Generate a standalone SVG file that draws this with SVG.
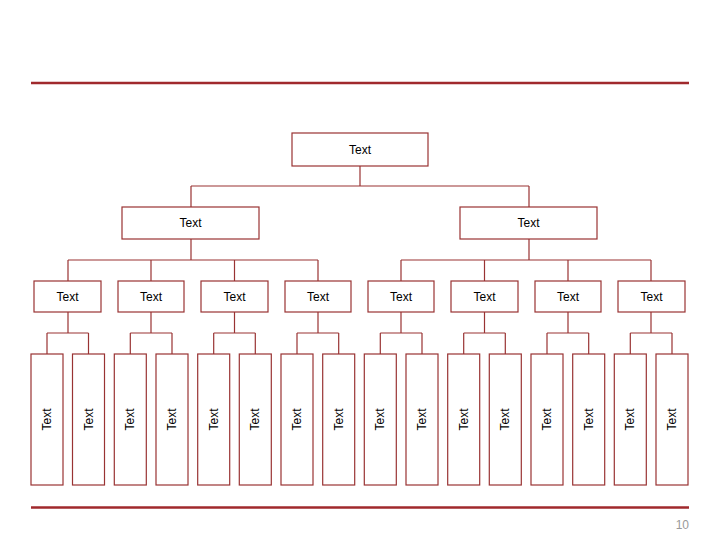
<svg xmlns="http://www.w3.org/2000/svg" width="720" height="540" viewBox="0 0 720 540">
<style>
.box{fill:#fff;stroke:#993333;stroke-width:1.2}
.ln{fill:none;stroke:#993333;stroke-width:1.2}
.t{font-family:"Liberation Sans",Arial,sans-serif;font-size:12px;fill:#000;text-anchor:middle;dominant-baseline:central}
.rule{stroke:#A0292C;stroke-width:2.5}
</style>
<rect width="720" height="540" fill="#fff"/>
<line class="rule" x1="31" y1="83" x2="689" y2="83"/>
<line class="rule" x1="31" y1="507.5" x2="689" y2="507.5"/>
<text x="689" y="529" font-family="Liberation Sans,Arial,sans-serif" font-size="12" fill="#999" text-anchor="end">10</text>
<g id="connectors" class="ln">
<path d="M360 166V186M191 186H529M191 186V207M529 186V207"/>
<path d="M191 239V260M68 260H318M68 260V281M151 260V281M234.5 260V281M318 260V281"/>
<path d="M529 239V260M401 260H651M401 260V281M484.5 260V281M568 260V281M651 260V281"/>
<path d="M68 312V333M47 333H88.5M47 333V354M88.5 333V354"/>
<path d="M151 312V333M130.3 333H172M130.3 333V354M172 333V354"/>
<path d="M234.5 312V333M213.7 333H255.3M213.7 333V354M255.3 333V354"/>
<path d="M318 312V333M297 333H338.7M297 333V354M338.7 333V354"/>
<path d="M401 312V333M380.3 333H422M380.3 333V354M422 333V354"/>
<path d="M484.5 312V333M463.7 333H505.3M463.7 333V354M505.3 333V354"/>
<path d="M568 312V333M547 333H588.7M547 333V354M588.7 333V354"/>
<path d="M651 312V333M630.3 333H672M630.3 333V354M672 333V354"/>
</g>
<g id="n0"><rect class="box" x="292" y="133" width="136" height="33"/><text class="t" x="360" y="149.5">Text</text></g>
<g id="n1"><rect class="box" x="122" y="207" width="137" height="32"/><text class="t" x="190.5" y="223">Text</text></g>
<g id="n2"><rect class="box" x="460" y="207" width="137" height="32"/><text class="t" x="528.5" y="223">Text</text></g>
<g id="m1"><rect class="box" x="34" y="281" width="67" height="31"/><text class="t" x="67.5" y="296.5">Text</text></g>
<g id="m2"><rect class="box" x="118" y="281" width="66" height="31"/><text class="t" x="151" y="296.5">Text</text></g>
<g id="m3"><rect class="box" x="201" y="281" width="67" height="31"/><text class="t" x="234.5" y="296.5">Text</text></g>
<g id="m4"><rect class="box" x="285" y="281" width="66" height="31"/><text class="t" x="318" y="296.5">Text</text></g>
<g id="m5"><rect class="box" x="368" y="281" width="66" height="31"/><text class="t" x="401" y="296.5">Text</text></g>
<g id="m6"><rect class="box" x="451" y="281" width="67" height="31"/><text class="t" x="484.5" y="296.5">Text</text></g>
<g id="m7"><rect class="box" x="535" y="281" width="66" height="31"/><text class="t" x="568" y="296.5">Text</text></g>
<g id="m8"><rect class="box" x="618" y="281" width="67" height="31"/><text class="t" x="651.5" y="296.5">Text</text></g>
<g id="l1"><rect class="box" x="31" y="354" width="32" height="131"/><text class="t" transform="translate(47 419.5) rotate(-90)">Text</text></g>
<g id="l2"><rect class="box" x="72.5" y="354" width="32" height="131"/><text class="t" transform="translate(88.5 419.5) rotate(-90)">Text</text></g>
<g id="l3"><rect class="box" x="114.3" y="354" width="32" height="131"/><text class="t" transform="translate(130.3 419.5) rotate(-90)">Text</text></g>
<g id="l4"><rect class="box" x="156" y="354" width="32" height="131"/><text class="t" transform="translate(172 419.5) rotate(-90)">Text</text></g>
<g id="l5"><rect class="box" x="197.7" y="354" width="32" height="131"/><text class="t" transform="translate(213.7 419.5) rotate(-90)">Text</text></g>
<g id="l6"><rect class="box" x="239.3" y="354" width="32" height="131"/><text class="t" transform="translate(255.3 419.5) rotate(-90)">Text</text></g>
<g id="l7"><rect class="box" x="281" y="354" width="32" height="131"/><text class="t" transform="translate(297 419.5) rotate(-90)">Text</text></g>
<g id="l8"><rect class="box" x="322.7" y="354" width="32" height="131"/><text class="t" transform="translate(338.7 419.5) rotate(-90)">Text</text></g>
<g id="l9"><rect class="box" x="364.3" y="354" width="32" height="131"/><text class="t" transform="translate(380.3 419.5) rotate(-90)">Text</text></g>
<g id="l10"><rect class="box" x="406" y="354" width="32" height="131"/><text class="t" transform="translate(422 419.5) rotate(-90)">Text</text></g>
<g id="l11"><rect class="box" x="447.7" y="354" width="32" height="131"/><text class="t" transform="translate(463.7 419.5) rotate(-90)">Text</text></g>
<g id="l12"><rect class="box" x="489.3" y="354" width="32" height="131"/><text class="t" transform="translate(505.3 419.5) rotate(-90)">Text</text></g>
<g id="l13"><rect class="box" x="531" y="354" width="32" height="131"/><text class="t" transform="translate(547 419.5) rotate(-90)">Text</text></g>
<g id="l14"><rect class="box" x="572.7" y="354" width="32" height="131"/><text class="t" transform="translate(588.7 419.5) rotate(-90)">Text</text></g>
<g id="l15"><rect class="box" x="614.3" y="354" width="32" height="131"/><text class="t" transform="translate(630.3 419.5) rotate(-90)">Text</text></g>
<g id="l16"><rect class="box" x="656" y="354" width="32" height="131"/><text class="t" transform="translate(672 419.5) rotate(-90)">Text</text></g>
</svg>
